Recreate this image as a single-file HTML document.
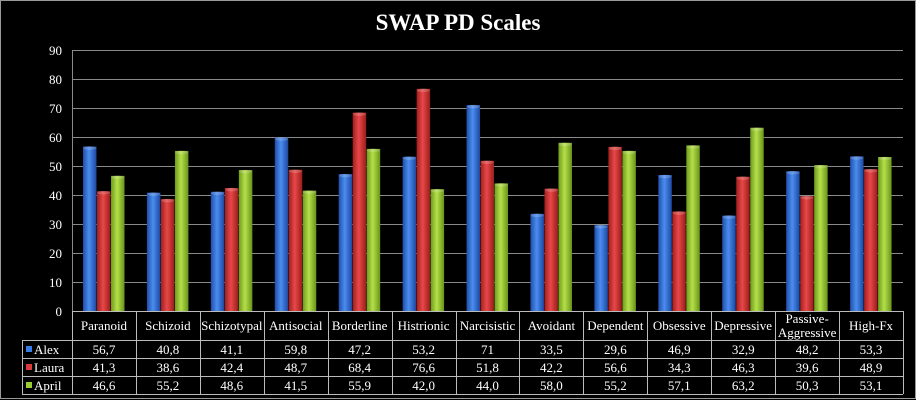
<!DOCTYPE html>
<html><head><meta charset="utf-8"><style>
html,body{margin:0;padding:0;background:#000;}
svg{display:block;}
text{font-family:"Liberation Serif",serif;fill:#fff;}
</style></head><body>
<svg width="916" height="400" viewBox="0 0 916 400" xmlns="http://www.w3.org/2000/svg">
<defs>
<linearGradient id="gb" x1="0" x2="1" y1="0" y2="0"><stop offset="0" stop-color="#1f4fa8"/><stop offset="0.45" stop-color="#4a8df0"/><stop offset="1" stop-color="#1d48a0"/></linearGradient>
<linearGradient id="gr" x1="0" x2="1" y1="0" y2="0"><stop offset="0" stop-color="#a01f1f"/><stop offset="0.45" stop-color="#e84848"/><stop offset="1" stop-color="#9a1c1c"/></linearGradient>
<linearGradient id="gg" x1="0" x2="1" y1="0" y2="0"><stop offset="0" stop-color="#6e9a1c"/><stop offset="0.45" stop-color="#b4e04a"/><stop offset="1" stop-color="#6a9418"/></linearGradient>
</defs>
<rect x="0.5" y="0.5" width="915" height="398" fill="#000" stroke="#999"/>
<text x="458" y="30" text-anchor="middle" font-size="23" font-weight="bold">SWAP PD Scales</text>
<g id="grid" stroke="#8a8a8a" stroke-width="1"></g>
<g id="bars"></g>
<g id="tbl" stroke="#bbb" stroke-width="1" fill="none"></g>
<g id="txt"></g>
</svg>
<script>
const ns="http://www.w3.org/2000/svg";
function el(p,t,a,tx){const e=document.createElementNS(ns,t);for(const k in a)e.setAttribute(k,a[k]);if(tx!==undefined)e.textContent=tx;document.getElementById(p).appendChild(e);}
const L=72,R=903,Y0=311,PX=2.9;
for(let v=0;v<=90;v+=10){const y=Y0-v*PX;el('grid','line',{x1:L,x2:R,y1:y+.5,y2:y+.5});el('txt','text',{x:62,y:y+5,'text-anchor':'end','font-size':13},v);}
el('grid','line',{x1:L+.5,x2:L+.5,y1:50,y2:Y0});
const cats=["Paranoid","Schizoid","Schizotypal","Antisocial","Borderline","Histrionic","Narcisistic","Avoidant","Dependent","Obsessive","Depressive","Passive-Aggressive","High-Fx"];
const A=[56.7,40.8,41.1,59.8,47.2,53.2,71,33.5,29.6,46.9,32.9,48.2,53.3];
const B=[41.3,38.6,42.4,48.7,68.4,76.6,51.8,42.2,56.6,34.3,46.3,39.6,48.9];
const C=[46.6,55.2,48.6,41.5,55.9,42.0,44.0,58.0,55.2,57.1,63.2,50.3,53.1];
const S=["56,7","40,8","41,1","59,8","47,2","53,2","71","33,5","29,6","46,9","32,9","48,2","53,3"];
const T=["41,3","38,6","42,4","48,7","68,4","76,6","51,8","42,2","56,6","34,3","46,3","39,6","48,9"];
const U=["46,6","55,2","48,6","41,5","55,9","42,0","44,0","58,0","55,2","57,1","63,2","50,3","53,1"];
const W=(R-L)/13;
[[A,'gb'],[B,'gr'],[C,'gg']].forEach(([d,g],s)=>{d.forEach((v,i)=>{const x=L+i*W+11+s*14;const h=v*PX;el('bars','rect',{x:x,y:Y0-h,width:13.5,height:h,fill:'url(#'+g+')'});el('bars','ellipse',{cx:x+6.75,cy:Y0-h+1.5,rx:6.5,ry:1.8,fill:'#fff',opacity:.18});});});
// table
const rows=[311,340,358,376,394];
el('tbl','line',{x1:L,x2:R,y1:311.5,y2:311.5});
for(let r=1;r<5;r++)el('tbl','line',{x1:22,x2:R,y1:rows[r]+.5,y2:rows[r]+.5});
el('tbl','line',{x1:22.5,x2:22.5,y1:340,y2:394});
for(let i=0;i<=13;i++){const x=Math.round(L+i*W)+.5;el('tbl','line',{x1:x,x2:x,y1:311,y2:394});}
cats.forEach((c,i)=>{const cx=L+i*W+W/2;if(c==="Passive-Aggressive"){el('txt','text',{x:cx,y:323,'text-anchor':'middle','font-size':13},"Passive-");el('txt','text',{x:cx,y:337,'text-anchor':'middle','font-size':13},"Aggressive");}else el('txt','text',{x:cx,y:330,'text-anchor':'middle','font-size':13},c);
[S,T,U].forEach((arr,r)=>el('txt','text',{x:cx,y:rows[r+1]+14,'text-anchor':'middle','font-size':13},arr[i]));});
[["Alex","#3a7de6"],["Laura","#d83b3b"],["April","#9acd32"]].forEach(([n,c],r)=>{const y=rows[r+1];el('txt','rect',{x:26,y:y+6,width:6,height:6,fill:c});el('txt','text',{x:34,y:y+14,'font-size':13},n);});
</script>
</body></html>
